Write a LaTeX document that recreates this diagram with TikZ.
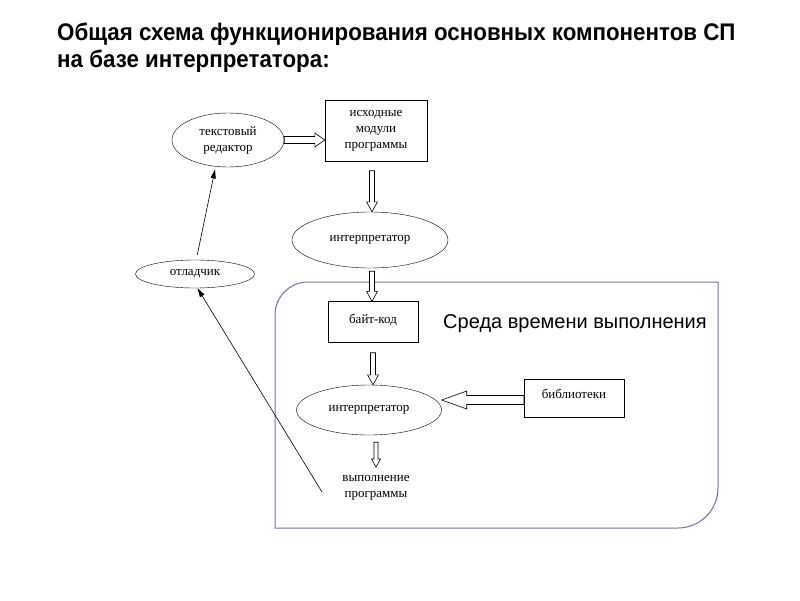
\documentclass[tikz,border=0pt]{standalone}
\usepackage{fontspec}
\setmainfont{Liberation Serif}
\newfontfamily\arialfont{Liberation Sans}
\newfontfamily\titlefont[FakeStretch=0.93]{Liberation Sans}
\usetikzlibrary{shapes.geometric,arrows.meta,calc}

\definecolor{frameblue}{RGB}{105,120,165}

\tikzset{
  oval/.style={ellipse, draw, inner sep=0pt, align=center, font=\fontsize{13}{16}\selectfont},
  box/.style={rectangle, draw, inner sep=0pt, align=center, font=\fontsize{13}{16}\selectfont},
  plain/.style={align=center, font=\fontsize{13}{16}\selectfont},
  blockarr/.style={draw, fill=white, line width=0.6pt},
  thinarr/.style={-{Triangle[length=9pt,width=5pt]}, line width=0.6pt},
  envframe/.style={draw=frameblue, line width=1pt}
}

% hollow block arrows: from, to, shaft half width, head half width, head length
\newcommand{\vblock}[5]{\draw[blockarr] let \p1=(#1), \p2=(#2) in
  ({\x1-#3},\y1) -- ({\x1-#3},{\y2+(#5)}) -- ({\x1-#4},{\y2+(#5)}) -- (\x1,\y2)
  -- ({\x1+#4},{\y2+(#5)}) -- ({\x1+#3},{\y2+(#5)}) -- ({\x1+#3},\y1) -- cycle;}
\newcommand{\hblock}[5]{\draw[blockarr] let \p1=(#1), \p2=(#2) in
  (\x1,{\y1+#3}) -- ({\x2-(#5)},{\y1+#3}) -- ({\x2-(#5)},{\y1+#4}) -- (\x2,\y1)
  -- ({\x2-(#5)},{\y1-#4}) -- ({\x2-(#5)},{\y1-#3}) -- (\x1,{\y1-#3}) -- cycle;}

\begin{document}
\begin{tikzpicture}[x=1pt,y=-1pt]
  \useasboundingbox[fill=white] (0,0) rectangle (800,600);

  % title
  \node[anchor=north west, inner sep=0pt, align=left, font=\titlefont\bfseries\fontsize{24}{27}\selectfont] (title) at (57,23)
    {Общая схема функционирования основных компонентов СП\\на базе интерпретатора:};

  % runtime environment frame
  \draw[envframe] (275,528) {[rounded corners=33pt] -- (275,282) -- (500,282)} -- (718,282)
    {[rounded corners=40pt] -- (718,528) -- (500,528)} -- cycle;
  \node[font=\arialfont\fontsize{20}{24}\selectfont] (env) at (575,324) {Среда времени выполнения};

  % nodes
  \node[oval, minimum width=112, minimum height=54] (editor) at (228,140) {текстовый\\редактор};
  \node[box, minimum width=102, minimum height=61] (src) at (376,131) {исходные\\модули\\программы};
  \node[oval, minimum width=156, minimum height=56] (interp1) at (370,240) {интерпретатор};
  \node[oval, minimum width=119, minimum height=28] (debug) at (195,274) {отладчик};
  \node[box, minimum width=90, minimum height=41, text depth=7pt] (bytecode) at (373,322) {байт-код};
  \node[oval, minimum width=145, minimum height=50] (interp2) at (369,410) {интерпретатор};
  \node[box, minimum width=100, minimum height=38, text depth=9pt] (lib) at (574,398) {библиотеки};
  \node[plain] (exec) at (376,488) {выполнение\\программы};
  \coordinate (dbgstart) at (322,492);

  % block arrows
  \hblock{editor.east}{src.west}{3.5pt}{7pt}{10pt}
  \vblock{$(src.south)+(-4,9)$}{interp1.north}{2.5pt}{5.5pt}{10pt}
  \vblock{$(interp1.south)+(2,3)$}{bytecode.north}{2.5pt}{5.5pt}{10pt}
  \vblock{$(bytecode.south)+(0,10)$}{interp2.north}{2.5pt}{5.5pt}{10pt}
  \hblock{$(lib.west)+(0,2)$}{interp2.east}{4.5pt}{9pt}{-25pt}
  \vblock{$(interp2.south)+(7,7)$}{$(exec.north)+(0,-5)$}{2pt}{4.5pt}{8pt}

  % debugger links
  \draw[thinarr] (dbgstart) -- (debug.-80);
  \draw[thinarr, shorten <=5pt, shorten >=3pt] (debug.85) -- (editor.-115);
\end{tikzpicture}
\end{document}
